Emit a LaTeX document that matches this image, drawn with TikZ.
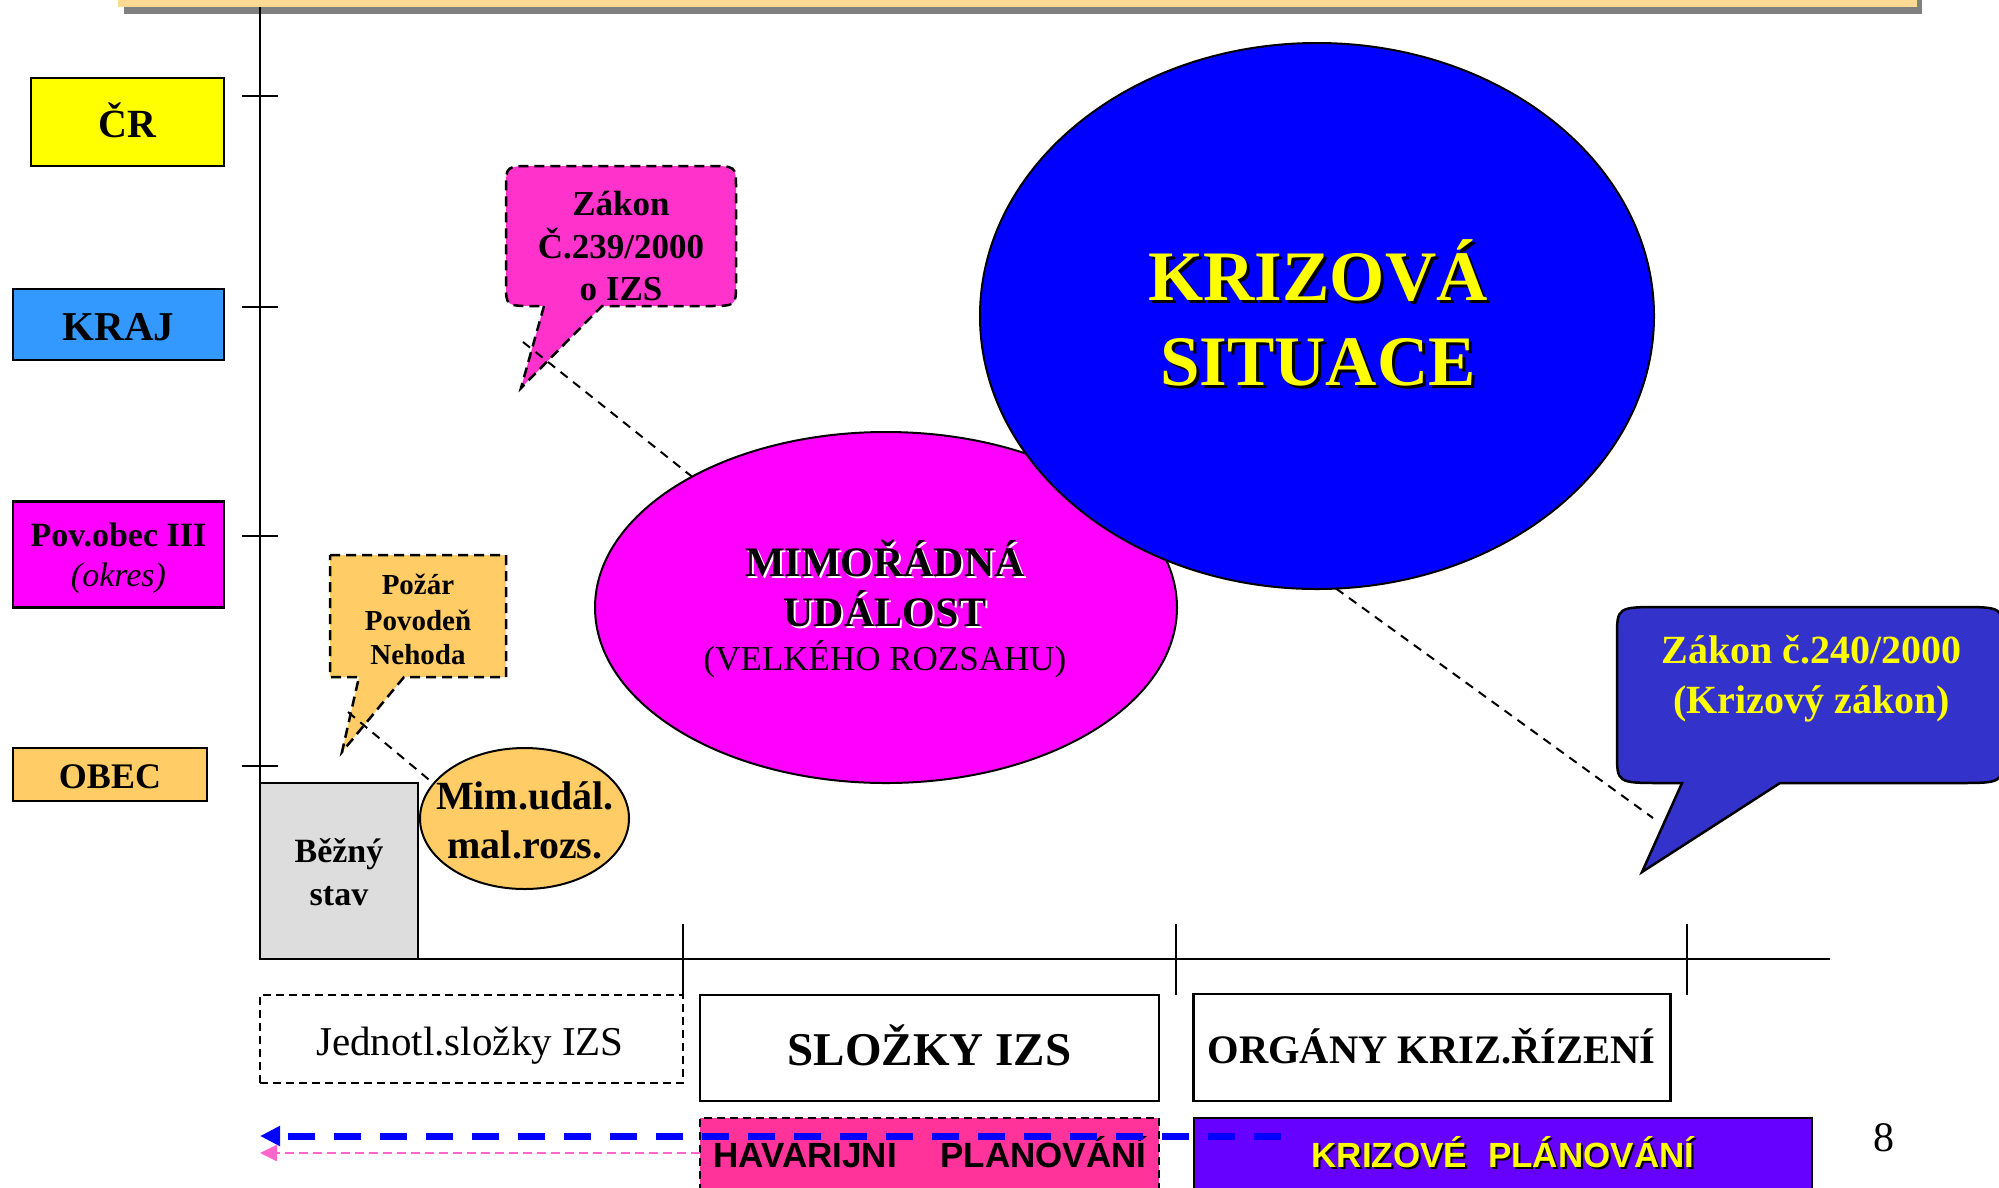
\documentclass[tikz,border=0pt]{standalone}
\usepackage{fontspec}
\setmainfont{Liberation Serif}
\newfontfamily\arialf{Liberation Sans}
\usetikzlibrary{shapes.geometric,arrows.meta}
\newcommand{\fsz}[1]{\fontsize{#1}{#1}\selectfont}
\definecolor{cryellow}{HTML}{FFFF00}
\definecolor{krajblue}{HTML}{3399FF}
\definecolor{povmag}{HTML}{FF00FF}
\definecolor{obecor}{HTML}{FFCC66}
\definecolor{bezgray}{HTML}{DDDDDD}
\definecolor{zakpink}{HTML}{FF33CC}
\definecolor{krizblue}{HTML}{0000FF}
\definecolor{zakblue}{HTML}{3333CC}
\definecolor{havpink}{HTML}{FF3399}
\definecolor{krizpl}{HTML}{6600FF}
\definecolor{barorange}{HTML}{FFDA94}
\definecolor{bargray}{HTML}{808080}
\definecolor{pinkarrow}{HTML}{FF66CC}
\begin{document}
\begin{tikzpicture}[x=1pt,y=-1pt,
  every node/.style={inner sep=0pt, outer sep=0pt},
  lbl/.style={anchor=base, inner sep=0pt},
  lvlbox/.style={draw=black, line width=2.5pt},
  axisline/.style={line width=2.5pt, black},
  xtick/.style={line width=1.8pt, black},
  callout/.style={draw=black, line width=2.5pt, dash pattern=on 10pt off 6pt},
  ell/.style={ellipse, draw=black, line width=2pt},
  conn/.style={line width=2pt, dash pattern=on 9pt off 7pt},
  botbox/.style={draw=black, line width=2.5pt},
  bluedash/.style={krizblue, line width=7pt, dash pattern=on 27pt off 19pt, -{Triangle[length=20pt,width=19pt]}},
  pinkdash/.style={pinkarrow, line width=2.5pt, dash pattern=on 9pt off 5pt, -{Triangle[length=17pt,width=16pt]}}
]
\useasboundingbox (0,0) rectangle (1999,1187);
\clip (0,0) rectangle (1999,1187);
\fill[white] (0,0) rectangle (1999,1187);

% top bar
\fill[bargray] (124,-5) rectangle (1922,14);
\fill[barorange] (118,-5) rectangle (1917,7);

% axes
\coordinate (ytop) at (260,7);
\coordinate (orig) at (260,959);
\coordinate (xend) at (1830,959);
\draw[axisline] (ytop) -- (orig) -- (xend);
\foreach \yy in {96,307,536,766} \draw[axisline] (242,\yy) -- (278,\yy);
\foreach \xx in {683,1176,1687} \draw[xtick] (\xx,924) -- (\xx,995);

% level boxes
\node[lvlbox, fill=cryellow, minimum width=193, minimum height=88] (cr) at (127.5,122) {};
\node[lvlbox, fill=krajblue, minimum width=211, minimum height=71] (kraj) at (118.5,324.5) {};
\node[lvlbox, fill=povmag, minimum width=211, minimum height=106] (pov) at (118.5,554.5) {};
\node[lvlbox, fill=obecor, minimum width=194, minimum height=53] (obec) at (110,774.5) {};
\node[lbl, font=\fsz{40}\bfseries] (crt) at (127.5,137) {ČR};
\node[lbl, font=\fsz{41}\bfseries] (krajt) at (118.5,340) {KRAJ};
\node[lbl, font=\fsz{34}\bfseries] (povt1) at (118.5,546) {Pov.obec III};
\node[lbl, font=\fsz{34}\itshape] (povt2) at (118.5,586) {(okres)};
\node[lbl, font=\fsz{36}\bfseries] (obect) at (110,788) {OBEC};

% Bezny stav
\node[lvlbox, fill=bezgray, minimum width=158, minimum height=176] (bezny) at (339,871) {};
\node[lbl, font=\fsz{34}\bfseries] (bez1) at (339,862.5) {Běžný};
\node[lbl, font=\fsz{34}\bfseries] (bez2) at (339,905) {stav};

% Pozar callout
\draw[callout, fill=obecor] (330,555) -- (506,555) -- (506,677) -- (404,677) -- (342,752) -- (359,677) -- (330,677) -- cycle;
\coordinate (pozartip) at (342,752);
\node[lbl, font=\fsz{29}\bfseries] (poz1) at (418,594) {Požár};
\node[lbl, font=\fsz{29}\bfseries] (poz2) at (418,630) {Povodeň};
\node[lbl, font=\fsz{29}\bfseries] (poz3) at (418,664) {Nehoda};

% Zakon 239 callout
\draw[callout, fill=zakpink] (544,306) -- (521,388) -- (602,306) -- (708,306)
  .. controls (736,306) .. (736,284) -- (736,188)
  .. controls (736,166) .. (708,166) -- (534,166)
  .. controls (506,166) .. (506,188) -- (506,284)
  .. controls (506,306) .. (534,306) -- cycle;
\coordinate (z239tip) at (521,388);
\node[lbl, font=\fsz{35}\bfseries] (z1) at (621,215) {Zákon};
\node[lbl, font=\fsz{35}\bfseries] (z2) at (621,258) {Č.239/2000};
\node[lbl, font=\fsz{35}\bfseries] (z3) at (621,300) {o IZS};

% ellipses
\node[ell, fill=obecor, minimum width=209, minimum height=141] (mimu) at (524.5,818.5) {};
\node[ell, fill=povmag, minimum width=582, minimum height=351] (mimo) at (886,607.5) {};
\node[ell, fill=krizblue, minimum width=674, minimum height=546] (kriz) at (1317,316) {};

\node[lbl, font=\fsz{40}\bfseries] (mu1) at (525,809) {Mim.udál.};
\node[lbl, font=\fsz{40}\bfseries] (mu2) at (525,858) {mal.rozs.};

\node[lbl, font=\fsz{42}\bfseries, white] (mo1s) at (887,578) {MIMOŘÁDNÁ};
\node[lbl, font=\fsz{42}\bfseries, white] (mo2s) at (887,628) {UDÁLOST};
\node[lbl, font=\fsz{42}\bfseries] (mo1) at (885,576) {MIMOŘÁDNÁ};
\node[lbl, font=\fsz{42}\bfseries] (mo2) at (885,626) {UDÁLOST};
\node[lbl, font=\fsz{35}] (mo3) at (885,670) {(VELKÉHO ROZSAHU)};

\node[lbl, font=\fsz{71}\bfseries, black] (ks1s) at (1321,303) {KRIZOVÁ};
\node[lbl, font=\fsz{71}\bfseries, black] (ks2s) at (1321,388) {SITUACE};
\node[lbl, font=\fsz{71}\bfseries, cryellow] (ks1) at (1318,300) {KRIZOVÁ};
\node[lbl, font=\fsz{71}\bfseries, cryellow] (ks2) at (1318,385) {SITUACE};

% Zakon 240 callout
\draw[line width=2.5pt, draw=black, fill=zakblue] (1662,607) -- (1958,607)
  .. controls (2003,607) .. (2003,637) -- (2003,753)
  .. controls (2003,783) .. (1958,783) -- (1780,783) -- (1642,872) -- (1682,783) -- (1662,783)
  .. controls (1617,783) .. (1617,753) -- (1617,637)
  .. controls (1617,607) .. (1662,607) -- cycle;
\node[lbl, font=\fsz{40}\bfseries, cryellow] (zz1) at (1811.5,663) {Zákon č.240/2000};
\node[lbl, font=\fsz{40}\bfseries, cryellow] (zz2) at (1811.5,713) {(Krizový zákon)};

% dashed connectors
\coordinate (d1s) at (348,712);
\draw[conn] (d1s) -- (mimu.159);
\coordinate (d2s) at (523,342);
\draw[conn] (d2s) -- (mimo.146);
\coordinate (d3e) at (1653,818);
\draw[conn] (kriz.-86) -- (d3e);

% bottom boxes
\node[botbox, dash pattern=on 8pt off 5pt, minimum width=423, minimum height=88] (jed) at (471.5,1039) {};
\node[botbox, minimum width=459, minimum height=106] (slo) at (929.5,1048) {};
\node[botbox, minimum width=477, minimum height=107] (org) at (1432,1047.5) {};
\node[botbox, dash pattern=on 8pt off 5pt, fill=havpink, minimum width=459, minimum height=82] (hav) at (929.5,1159) {};
\node[botbox, fill=krizpl, minimum width=618, minimum height=82] (kpl) at (1503,1159) {};

\node[lbl, font=\fsz{41}] (jedt) at (470,1055) {Jednotl.složky IZS};
\node[lbl, font=\fsz{47}\bfseries] (slot) at (929.5,1065) {SLOŽKY IZS};
\node[lbl, font=\fsz{40.5}\bfseries] (orgt) at (1431.5,1063) {ORGÁNY KRIZ.ŘÍZENÍ};
\node[lbl, font=\arialf\fsz{35}\bfseries] (havt) at (930,1167) {HAVARIJNI\hspace{43.5pt}PLANOVÁNÍ};
\node[lbl, font=\arialf\fsz{35}\bfseries, black] (kplts) at (1505,1169) {KRIZOVÉ\hspace{21pt}PLÁNOVÁNÍ};
\node[lbl, font=\arialf\fsz{35}\bfseries, cryellow] (kplt) at (1503,1167) {KRIZOVÉ\hspace{21pt}PLÁNOVÁNÍ};

% arrows
\coordinate (bs) at (1281,1136);
\coordinate (be) at (260,1136);
\draw[bluedash] (bs) -- (be);
\coordinate (ps) at (hav.west |- 0,1153);
\coordinate (pe) at (260,1153);
\draw[pinkdash] (ps) -- (pe);

\node[lbl, font=\fsz{42}] (pagenum) at (1884,1151) {8};
\end{tikzpicture}
\end{document}
